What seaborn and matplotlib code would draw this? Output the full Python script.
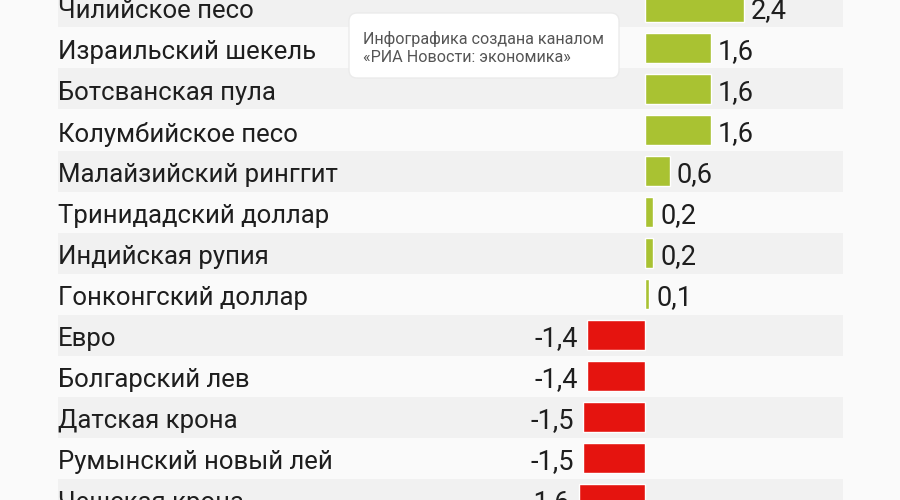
import matplotlib
matplotlib.use("Agg")
import matplotlib.pyplot as plt
import matplotlib.transforms as mtransforms
from matplotlib.patches import FancyBboxPatch
import seaborn as sns
import pandas as pd

# Currency changes, %
currencies = [
    "Чилийское песо", "Израильский шекель", "Ботсванская пула",
    "Колумбийское песо", "Малайзийский ринггит", "Тринидадский доллар",
    "Индийская рупия", "Гонконгский доллар", "Евро", "Болгарский лев",
    "Датская крона", "Румынский новый лей", "Чешская крона",
]
changes = [2.4, 1.6, 1.6, 1.6, 0.6, 0.2, 0.2, 0.1, -1.4, -1.4, -1.5, -1.5, -1.6]
value_labels = ["2,4", "1,6", "1,6", "1,6", "0,6", "0,2", "0,2", "0,1",
                "-1,4", "-1,4", "-1,5", "-1,5", "-1,6"]
note_lines = ["Инфографика создана каналом", "«РИА Новости: экономика»"]

GREEN = "#a9c232"
RED = "#e5140f"
BG = "#fafafa"
STRIPE = "#f1f1f1"

sns.set_theme(style="white")
plt.rcParams["font.family"] = ["Roboto", "DejaVu Sans"]

df = pd.DataFrame({"currency": currencies, "change": changes})
colors = [GREEN if v > 0 else RED for v in changes]

fig = plt.figure(figsize=(9, 5), dpi=100, facecolor=BG)
ax = fig.add_axes([0, 0, 1, 1])
ax.set_facecolor(BG)

# pixel scale: zero at x=645px, 41.3 px per unit; rows 41 px apart
px_unit = 41.3

for i in range(len(currencies)):
    if i % 2 == 0:
        ax.axhspan(i - 0.5, i + 0.5, xmin=58 / 900, xmax=843 / 900,
                   color=STRIPE, zorder=0, lw=0)

sns.barplot(data=df, x="change", y="currency", hue="currency",
            palette=colors, orient="h", width=0.71, legend=False,
            saturation=1, ax=ax, zorder=2)
ax.set_xlim(-645 / px_unit, 255 / px_unit)
ax.set_ylim((500 - 7) / 41, -7 / 41)
ax.axis("off")

trans = mtransforms.blended_transform_factory(ax.transAxes, ax.transData)
for i, name in enumerate(currencies):
    ax.text(58 / 900, i + 0.1, name, transform=trans, ha="left", va="center",
            fontsize=18.5, color="#1e1e1e", zorder=3)

for i, (v, lab) in enumerate(zip(changes, value_labels)):
    if v > 0:
        ax.text(v + 7 / px_unit, i + 0.08, lab, ha="left", va="center",
                fontsize=19.5, color="#1e1e1e", zorder=3)
    else:
        ax.text(v - 9 / px_unit, i + 0.08, lab, ha="right", va="center",
                fontsize=19.5, color="#1e1e1e", zorder=3)

# note box (display pixels, origin bottom-left)
box = FancyBboxPatch((349, 500 - 78), 270, 65,
                     boxstyle="round,pad=0,rounding_size=8",
                     transform=mtransforms.IdentityTransform(),
                     facecolor="white", edgecolor="#ebebeb", lw=1, zorder=5)
fig.patches.append(box)
fig.text(363 / 900, 1 - 44 / 500, note_lines[0], fontsize=11.6,
         color="#555555", va="baseline", zorder=6)
fig.text(363 / 900, 1 - 62 / 500, note_lines[1], fontsize=11.6,
         color="#555555", va="baseline", zorder=6)

fig.savefig("out.png", dpi=100, facecolor=BG)
